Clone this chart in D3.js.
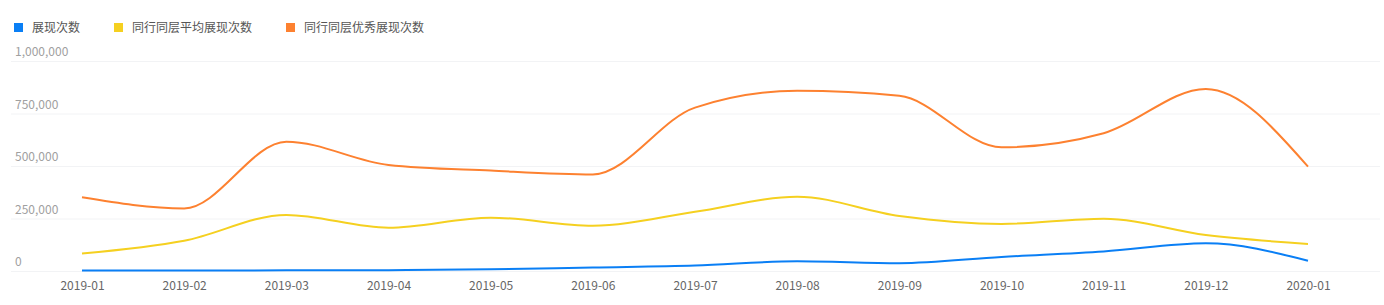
<!DOCTYPE html>
<html><head><meta charset="utf-8">
<script src="https://cdn.jsdelivr.net/npm/d3@7/dist/d3.min.js"></script>
<style>body{margin:0;background:#fff;}svg{display:block;font-family:"Noto Sans CJK SC","Noto Sans",sans-serif;}</style>
</head><body><svg id="c" width="1384" height="305"></svg>
<script>
const categories = ["2019-01","2019-02","2019-03","2019-04","2019-05","2019-06","2019-07","2019-08","2019-09","2019-10","2019-11","2019-12","2020-01"];
const seriesNames = ["展现次数","同行同层平均展现次数","同行同层优秀展现次数"];
const showCount = [2000,2000,3000,4000,8000,17000,26000,46000,37000,67000,93000,132000,49000];
const avgCount = [83000,144000,267000,206000,254000,216000,282000,354000,262000,224000,249000,171000,129000];
const bestCount = [351000,298000,616000,505000,478000,460000,778000,858000,834000,589000,656000,867000,497000];
const yTicks = [0,250000,500000,750000,1000000];
const colors = ["#0a7ff5","#f5d020","#fd8130"];

const svg = d3.select("#c");
const x = d3.scalePoint().domain(categories).range([82,1308]);
const y = d3.scaleLinear().domain([0,1000000]).range([271,61]);

// gridlines
svg.append("g").selectAll("line").data(yTicks).join("line")
  .attr("x1",11).attr("x2",1380)
  .attr("y1",d=>y(d)+0.5).attr("y2",d=>y(d)+0.5)
  .attr("stroke","#f2f3f5").attr("stroke-width",1);
svg.append("g").selectAll("text").data(yTicks).join("text")
  .attr("x",15).attr("y",d=>y(d)-5)
  .attr("font-size",12).attr("fill","#a0a0a0")
  .text(d=>d3.format(",")(d));

// x labels
const xAxis = d3.axisBottom(x).tickSize(0).tickPadding(0);
const gx = svg.append("g").attr("transform","translate(0,281)").call(xAxis);
gx.select(".domain").remove();
gx.selectAll("text").attr("font-size",12).attr("fill","#666").attr("dy","0.71em")
  .style("font-family",'"Noto Sans CJK SC","Noto Sans",sans-serif');

// lines
const data = [showCount, avgCount, bestCount];
const line = d3.line().x((d,i)=>x(categories[i])).y(d=>y(d)).curve(d3.curveMonotoneX);
[2,1,0].forEach(k=>{
  svg.append("path").attr("d",line(data[k])).attr("fill","none")
    .attr("stroke",colors[k]).attr("stroke-width",2);
});

// legend
const legX = [14,114,286];
seriesNames.forEach((n,i)=>{
  svg.append("rect").attr("x",legX[i]).attr("y",23).attr("width",9).attr("height",9).attr("fill",colors[i]);
  svg.append("text").attr("x",legX[i]+18).attr("y",32).attr("font-size",12).attr("fill","#555").text(n);
});
</script></body></html>
